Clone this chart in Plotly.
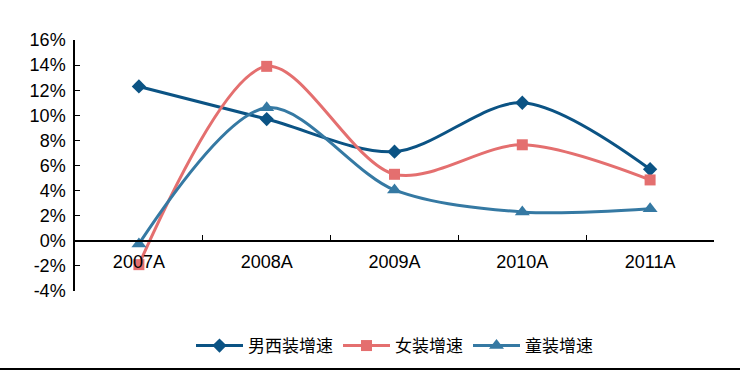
import plotly.graph_objects as go

categories = ["2007A", "2008A", "2009A", "2010A", "2011A"]
men = [12.3, 9.7, 7.1, 11.0, 5.7]
women = [-1.9, 13.9, 5.3, 7.65, 4.85]
kids = [-0.25, 10.6, 4.05, 2.3, 2.55]
names = ["男西装增速", "女装增速", "童装增速"]
colors = ["#0B5384", "#E46F6F", "#3579A3"]
symbols = ["diamond", "square", "triangle-up"]
sizes = [11, 11, 13]
y_ticks = list(range(-4, 17, 2))
y_labels = [f"{v}%" for v in y_ticks]

fig = go.Figure()
for vals, name, col, sym, sz in zip([men, women, kids], names, colors, symbols, sizes):
    fig.add_trace(go.Scatter(
        x=categories, y=vals, name=name, mode="lines+markers",
        line=dict(color=col, width=3, shape="spline", smoothing=0.9),
        marker=dict(symbol=sym, size=sz, color=col),
    ))

W, H = 743, 371
L, R, T, B = 75, 29, 40, 80
pw, ph = W - L - R, H - T - B

fig.update_layout(
    width=W, height=H,
    margin=dict(l=L, r=R, t=T, b=B, autoexpand=False),
    paper_bgcolor="white", plot_bgcolor="white",
    font=dict(family="Liberation Sans, Arial, sans-serif", size=18, color="black"),
    showlegend=True,
    legend=dict(orientation="h", x=0.5, xanchor="center", y=(291 - 346) / ph,
                yanchor="middle", itemwidth=47,
                font=dict(family="Noto Sans CJK SC", size=17)),
    xaxis=dict(type="category", range=[-0.5, 4.5], anchor="free", position=0.2,
               showline=True, linecolor="black", linewidth=1.5,
               ticks="inside", ticklen=5, tickcolor="black", tickson="boundaries",
               showgrid=False, zeroline=False, ticklabelstandoff=5, automargin=False),
    yaxis=dict(range=[-4, 16], tickvals=y_ticks, ticktext=y_labels,
               showline=True, linecolor="black", linewidth=1.5,
               ticks="inside", ticklen=5, tickcolor="black",
               showgrid=False, zeroline=False, automargin=False, ticklabelstandoff=4),
    shapes=[dict(type="line", xref="paper", yref="paper",
                 x0=-L / pw, x1=(740 - L) / pw,
                 y0=(291 - 369) / ph, y1=(291 - 369) / ph,
                 line=dict(color="black", width=2))],
)
fig.write_html("out.html", config={"displayModeBar": False},
               post_script="document.body.style.margin='0';document.body.style.overflow='hidden';")
